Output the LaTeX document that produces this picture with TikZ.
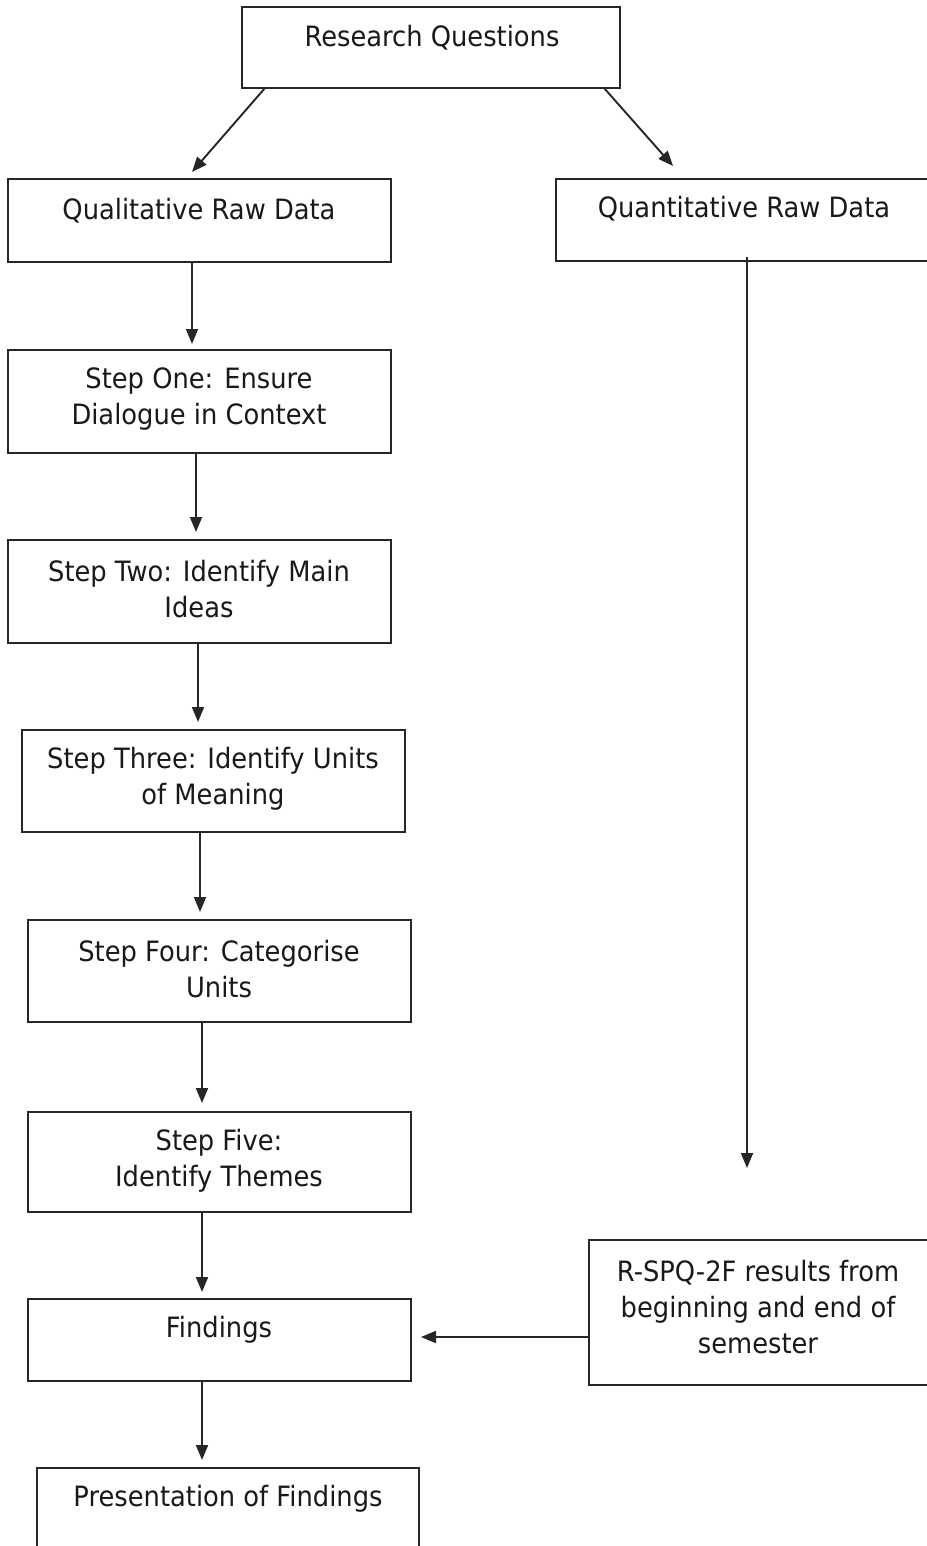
\documentclass[tikz,border=0pt]{standalone}
\usepackage{fontspec}
\setmainfont{DejaVu Sans}[FakeStretch=0.92]
\usetikzlibrary{arrows.meta,calc}
\begin{document}
\begin{tikzpicture}[x=1pt,y=-1pt,
  box/.style={draw=black!85,line width=1.9pt,rectangle,inner sep=0pt,outer sep=0pt,anchor=north west},
  lbl/.style={align=center,inner sep=0pt,font=\fontsize{28}{36}\selectfont,text=black!90},
  arr/.style={draw=black!85,line width=1.9pt,-{Triangle[length=15pt,width=12pt]}}]
\useasboundingbox[fill=white] (0,0) rectangle (926,1546);
% boxes
\node[box,minimum width=378pt,minimum height=81pt] (rq) at (242,7) {};
\node[box,minimum width=383pt,minimum height=83pt] (qual) at (8,179) {};
\node[box,minimum width=376pt,minimum height=82pt] (quant) at (556,179) {};
\node[box,minimum width=383pt,minimum height=103pt] (s1) at (8,350) {};
\node[box,minimum width=383pt,minimum height=103pt] (s2) at (8,540) {};
\node[box,minimum width=383pt,minimum height=102pt] (s3) at (22,730) {};
\node[box,minimum width=383pt,minimum height=102pt] (s4) at (28,920) {};
\node[box,minimum width=383pt,minimum height=100pt] (s5) at (28,1112) {};
\node[box,minimum width=383pt,minimum height=82pt] (find) at (28,1299) {};
\node[box,minimum width=343pt,minimum height=145pt] (rspq) at (589,1240) {};
\node[box,minimum width=382pt,minimum height=110pt] (pres) at (37,1468) {};
% labels
\node[lbl] (trq) at (432,38) {Research Questions};
\node[lbl] (tqual) at (199,211) {Qualitative Raw Data};
\node[lbl] (tquant) at (744,209) {Quantitative Raw Data};
\node[lbl] (ts1) at (199,399) {Step One: Ensure\\Dialogue in Context};
\node[lbl] (ts2) at (199,589) {Step Two: Identify Main\\Ideas};
\node[lbl] (ts3) at (213,779) {Step Three: Identify Units\\of Meaning};
\node[lbl] (ts4) at (219,969) {Step Four: Categorise\\Units};
\node[lbl] (ts5) at (219,1161) {Step Five:\\Identify Themes};
\node[lbl] (tfind) at (219,1330) {Findings};
\node[lbl] (trspq) at (758,1307) {R-SPQ-2F results from\\beginning and end of\\semester};
\node[lbl] (tpres) at (228,1499) {Presentation of Findings};
% connectors
\draw[arr] ($(rq.south west)+(23,0)$) -- (192,172);
\draw[arr] ($(rq.south west)+(362,0)$) -- (673,166);
\draw[arr] (qual.south -| 192,0) -- (192,344);
\draw[arr] (s1.south -| 196,0) -- (196,532);
\draw[arr] (s2.south -| 198,0) -- (198,722);
\draw[arr] (s3.south -| 200,0) -- (200,912);
\draw[arr] (s4.south -| 202,0) -- (202,1103);
\draw[arr] (s5.south -| 202,0) -- (202,1292);
\draw[arr] (find.south -| 202,0) -- (202,1460);
\coordinate (qend) at (747,1168);
\draw[arr] ($(quant.south -| qend)+(0,-4)$) -- (qend);
\draw[arr] (rspq.west |- 0,1337) -- (421,1337);
\end{tikzpicture}
\end{document}
